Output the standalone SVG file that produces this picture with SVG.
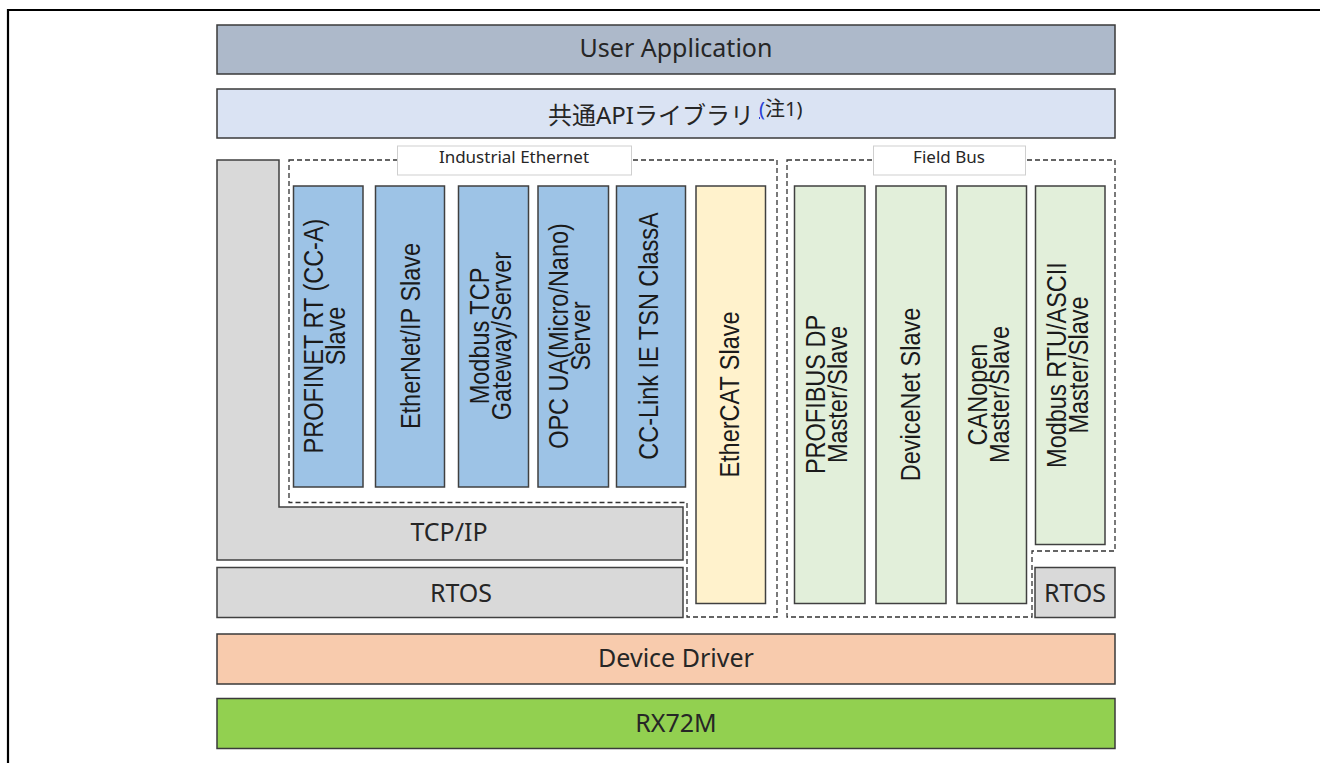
<svg xmlns="http://www.w3.org/2000/svg" width="1320" height="763" viewBox="0 0 1320 763">
<defs>
<style>
.bar{stroke:#3a3a3a;stroke-width:1.5}
.box{stroke:#404040;stroke-width:1.5}
.blue{fill:#9dc3e6}
.green{fill:#e2efda}
.yellow{fill:#fff2cc}
.gray{fill:#d9d9d9}
.dash{fill:none;stroke:#333;stroke-width:1.3;stroke-dasharray:5 3}
.lbl{fill:#fff;stroke:#cfcfcf;stroke-width:1}
.t{font-family:"Noto Sans","Noto Sans CJK JP",sans-serif;fill:#262626;text-anchor:middle}
.big{font-size:25px}
.small{font-size:17px}
.v{font-family:"Liberation Sans",Arial,sans-serif;font-size:27px;fill:#1a1a1a;text-anchor:middle}
</style>
</defs>
<rect width="1320" height="763" fill="#fff"/>
<g id="frame">
<path d="M8,763 V10 H1320" fill="none" stroke="#000" stroke-width="2.2"/>
</g>
<g id="user-application">
<rect class="bar" x="217" y="25" width="898" height="49" fill="#adb9ca"/>
<text class="t big" x="676" y="57">User Application</text>
</g>
<g id="common-api">
<rect class="bar" x="217" y="89" width="898" height="49" fill="#dae3f3"/>
<text class="t" x="548" y="124" font-size="24" style="text-anchor:start">共通APIライブラリ</text>
<text class="t" x="759" y="116" font-size="20" style="text-anchor:start"><tspan fill="#2b3fd6" text-decoration="underline">(</tspan>注1)</text>
</g>
<g id="tcpip">
<polygon class="box gray" points="217,160 279,160 279,507 683,507 683,560 217,560"/>
<text class="t big" x="449" y="541">TCP/IP</text>
</g>
<g id="rtos">
<rect class="box gray" x="217" y="567.5" width="466" height="50"/>
<text class="t big" x="461" y="601.5">RTOS</text>
</g>
<g id="industrial-ethernet">
<path class="dash" d="M289,160 H777 V617 H687 V502.5 H289 Z"/>
<rect class="lbl" x="397.5" y="146" width="234" height="29"/>
<text class="t small" x="514" y="163">Industrial Ethernet</text>
</g>
<g id="field-bus">
<path class="dash" d="M787,160 H1115 V551 H1032 V617 H787 Z"/>
<rect class="lbl" x="873.5" y="146" width="152" height="29"/>
<text class="t small" x="949" y="163">Field Bus</text>
</g>
<g id="profinet">
<rect class="box blue" x="293.5" y="186" width="69.5" height="301"/>
<text class="v" transform="translate(328,336) rotate(-90) scale(0.87,1)"><tspan x="0" y="-5">PROFINET RT (CC-A)</tspan><tspan x="0" y="17">Slave</tspan></text>
</g>
<g id="ethernetip">
<rect class="box blue" x="375.5" y="186" width="69" height="301"/>
<text class="v" transform="translate(410,336) rotate(-90) scale(0.87,1)" y="10">EtherNet/IP Slave</text>
</g>
<g id="modbus-tcp">
<rect class="box blue" x="458.5" y="186" width="70" height="301"/>
<text class="v" transform="translate(493.5,336) rotate(-90) scale(0.87,1)"><tspan x="0" y="-5">Modbus TCP</tspan><tspan x="0" y="17">Gateway/Server</tspan></text>
</g>
<g id="opcua">
<rect class="box blue" x="538" y="186" width="70.5" height="301"/>
<text class="v" transform="translate(573,336) rotate(-90) scale(0.87,1)"><tspan x="0" y="-5">OPC UA(Micro/Nano)</tspan><tspan x="0" y="17">Server</tspan></text>
</g>
<g id="cclink">
<rect class="box blue" x="616.5" y="186" width="69" height="301"/>
<text class="v" transform="translate(651,336) rotate(-90) scale(0.87,1)" y="7">CC-Link IE TSN ClassA</text>
</g>
<g id="ethercat">
<rect class="box yellow" x="696" y="186" width="69.5" height="417.5"/>
<text class="v" transform="translate(730.5,394.5) rotate(-90) scale(0.87,1)" y="8">EtherCAT Slave</text>
</g>
<g id="profibus">
<rect class="box green" x="794.5" y="186" width="70.5" height="417.5"/>
<text class="v" transform="translate(829.7,394.5) rotate(-90) scale(0.87,1)"><tspan x="0" y="-5">PROFIBUS DP</tspan><tspan x="0" y="17">Master/Slave</tspan></text>
</g>
<g id="devicenet">
<rect class="box green" x="876" y="186" width="70" height="417.5"/>
<text class="v" transform="translate(911,394.5) rotate(-90) scale(0.87,1)" y="9">DeviceNet Slave</text>
</g>
<g id="canopen">
<rect class="box green" x="957" y="186" width="69.5" height="417.5"/>
<text class="v" transform="translate(991.8,394.5) rotate(-90) scale(0.87,1)"><tspan x="0" y="-5">CANopen</tspan><tspan x="0" y="17">Master/Slave</tspan></text>
</g>
<g id="modbus-rtu">
<rect class="box green" x="1035.5" y="186" width="69.5" height="358.5"/>
<text class="v" transform="translate(1070,365) rotate(-90) scale(0.87,1)"><tspan x="0" y="-4">Modbus RTU/ASCII</tspan><tspan x="0" y="18">Master/Slave</tspan></text>
</g>
<g id="rtos-small">
<rect class="box gray" x="1035" y="567.5" width="80" height="50"/>
<text class="t big" x="1075" y="601.5">RTOS</text>
</g>
<g id="device-driver">
<rect class="bar" x="217" y="634" width="898" height="50" fill="#f8cbad"/>
<text class="t big" x="676" y="666.5">Device Driver</text>
</g>
<g id="rx72m">
<rect class="bar" x="217" y="698.5" width="898" height="50" fill="#92d050"/>
<text class="t big" x="676" y="732">RX72M</text>
</g>
<g id="connectors"></g>
</svg>
